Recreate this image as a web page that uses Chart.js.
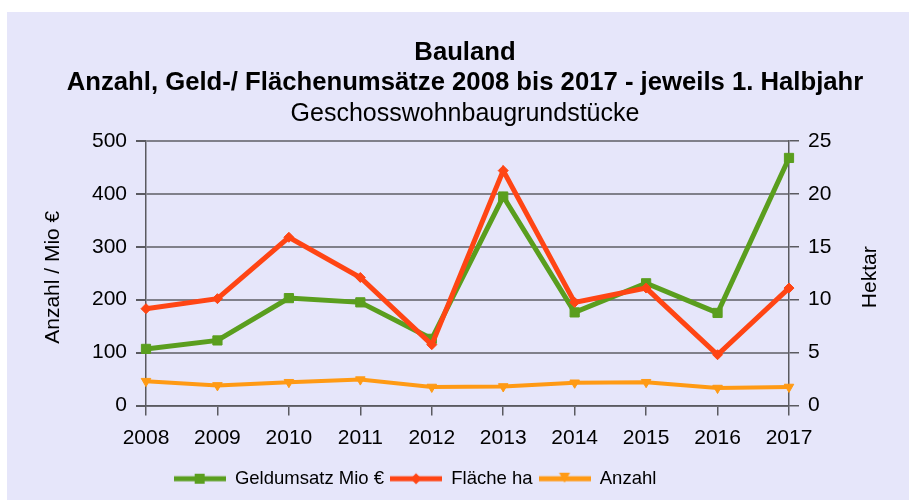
<!DOCTYPE html>
<html lang="de">
<head>
<meta charset="utf-8">
<title>Bauland – Geschosswohnbaugrundstücke</title>
<script src="https://cdn.jsdelivr.net/npm/chart.js@4.4.1/dist/chart.umd.min.js"></script>
<style>
  html, body { margin: 0; padding: 0; background: #fff; }
  #wrap { position: relative; width: 910px; height: 500px; }
</style>
</head>
<body>
<div id="wrap"><canvas id="bauland-chart" width="910" height="500"></canvas></div>
<script>
const years = ['2008', '2009', '2010', '2011', '2012', '2013', '2014', '2015', '2016', '2017'];
const geldumsatz = [107, 123, 203, 195, 126, 395, 176, 231, 175, 468];
const flaeche = [9.15, 10.1, 15.9, 12.1, 5.75, 22.2, 9.75, 11.1, 4.8, 11.1];
const anzahl = [46, 38, 44, 49, 35, 36, 43, 44, 33, 35];

const seriesNames = ['Geldumsatz Mio €', 'Fläche ha', 'Anzahl'];
const titleLines = ['Bauland', 'Anzahl, Geld-/ Flächenumsätze 2008 bis 2017 - jeweils 1. Halbjahr'];
const subtitleText = 'Geschosswohnbaugrundstücke';
const leftAxisTitle = 'Anzahl / Mio €';
const rightAxisTitle = 'Hektar';

const green = '#5a9e1e';
const red = '#ff4514';
const orange = '#ff9a14';
const gridColor = '#80808a';
const axisColor = '#5a5a60';
const fontFamily = '"Liberation Sans", Arial, sans-serif';

Chart.defaults.font.family = fontFamily;
Chart.defaults.color = '#000';

// legend icon: line with the marker in the middle, like the office legend
function makeLegendIcon(color, marker) {
  const c = document.createElement('canvas');
  c.width = 52;
  c.height = 16;
  const g = c.getContext('2d');
  g.strokeStyle = color;
  g.fillStyle = color;
  g.lineWidth = 5;
  g.beginPath();
  g.moveTo(0, 8);
  g.lineTo(52, 8);
  g.stroke();
  g.beginPath();
  if (marker === 'rect') {
    g.rect(21, 3, 10, 10);
  } else if (marker === 'diamond') {
    g.moveTo(26, 2.5); g.lineTo(31.5, 8); g.lineTo(26, 13.5); g.lineTo(20.5, 8);
  } else {
    g.moveTo(20.5, 2); g.lineTo(31.5, 2); g.lineTo(26, 12);
  }
  g.closePath();
  g.fill();
  return c;
}
const legendIcons = [makeLegendIcon(green, 'rect'), makeLegendIcon(red, 'diamond'), makeLegendIcon(orange, 'triangle')];

const chartBackground = {
  id: 'chartBackground',
  beforeDraw(chart) {
    const ctx = chart.ctx;
    ctx.save();
    ctx.fillStyle = '#e6e6fa';
    ctx.fillRect(7, 12, 902, 488);
    ctx.restore();
  }
};

// both axis titles read bottom-to-top
const axisTitles = {
  id: 'axisTitles',
  afterDraw(chart) {
    const { ctx, chartArea, scales } = chart;
    const midY = (chartArea.top + chartArea.bottom) / 2 + 4;
    ctx.save();
    ctx.font = '21px ' + fontFamily;
    ctx.fillStyle = '#000';
    ctx.textAlign = 'center';
    ctx.textBaseline = 'middle';
    [[scales.y.left + 33, leftAxisTitle], [scales.y1.right - 40, rightAxisTitle]].forEach(([x, text]) => {
      ctx.save();
      ctx.translate(x, midY);
      ctx.rotate(-Math.PI / 2);
      ctx.fillText(text, 0, 0);
      ctx.restore();
    });
    ctx.restore();
  }
};

// legend group sits left of the title centre in the original
const legendShift = {
  id: 'legendShift',
  afterLayout(chart) {
    chart.legend.left -= 50;
    chart.legend.right -= 50;
  }
};

const tickFont = { size: 21 };

const baulandChart = new Chart(document.getElementById('bauland-chart'), {
  type: 'line',
  data: {
    labels: years,
    datasets: [
      {
        label: seriesNames[0],
        data: geldumsatz,
        yAxisID: 'y',
        borderColor: green,
        backgroundColor: green,
        borderWidth: 5,
        pointStyle: 'rect',
        pointRadius: 6.5,
        pointBorderWidth: 1,
        order: 1,
        clip: false,
      },
      {
        label: seriesNames[1],
        data: flaeche,
        yAxisID: 'y1',
        borderColor: red,
        backgroundColor: red,
        borderWidth: 5,
        pointStyle: 'rectRot',
        pointRadius: 5,
        pointBorderWidth: 1,
        order: 0,
        clip: false,
      },
      {
        label: seriesNames[2],
        data: anzahl,
        yAxisID: 'y',
        borderColor: orange,
        backgroundColor: orange,
        borderWidth: 4,
        pointStyle: 'triangle',
        pointRotation: 180,
        pointRadius: 5.5,
        pointBorderWidth: 1,
        order: 2,
        clip: false,
      }
    ]
  },
  options: {
    responsive: false,
    animation: false,
    events: [],
    layout: { padding: { left: 20, right: 0, top: 0, bottom: 2 } },
    scales: {
      x: {
        grid: { drawOnChartArea: false, tickLength: 10, color: axisColor, lineWidth: 1.5 },
        border: { color: axisColor, width: 1.5 },
        ticks: { font: tickFont, padding: 10, maxRotation: 0, autoSkip: false },
        afterFit: (s) => { s.height = 58; }
      },
      y: {
        position: 'left',
        min: 0,
        max: 500,
        ticks: { stepSize: 100, font: tickFont, padding: 9 },
        grid: { color: gridColor, lineWidth: 2, tickLength: 10, tickColor: axisColor },
        border: { color: axisColor, width: 1.5 },
        afterFit: (s) => { s.width = 126; }
      },
      y1: {
        position: 'right',
        min: 0,
        max: 25,
        ticks: { stepSize: 5, font: tickFont, padding: 9 },
        grid: { drawOnChartArea: false, tickLength: 10, color: axisColor, lineWidth: 1.5 },
        border: { color: axisColor, width: 1.5 },
        afterFit: (s) => { s.width = 121; }
      }
    },
    plugins: {
      title: {
        display: true,
        text: titleLines,
        font: { size: 25.7, weight: 'bold', lineHeight: '30px' },
        padding: { top: 38, bottom: 0 }
      },
      subtitle: {
        display: true,
        text: subtitleText,
        color: '#000',
        font: { size: 25, weight: 'normal', lineHeight: '30px' },
        padding: { top: 1, bottom: 12 }
      },
      legend: {
        position: 'bottom',
        labels: {
          usePointStyle: true,
          pointStyleWidth: 52,
          boxHeight: 18,
          padding: 6,
          font: { size: 18.5 },
          sort: (a, b) => a.datasetIndex - b.datasetIndex,
          generateLabels(chart) {
            const items = Chart.defaults.plugins.legend.labels.generateLabels(chart);
            items.forEach((item) => {
              item.pointStyle = legendIcons[item.datasetIndex];
              item.rotation = 0;
            });
            return items;
          }
        }
      },
      tooltip: { enabled: false }
    }
  },
  plugins: [chartBackground, axisTitles, legendShift]
});
</script>
</body>
</html>
